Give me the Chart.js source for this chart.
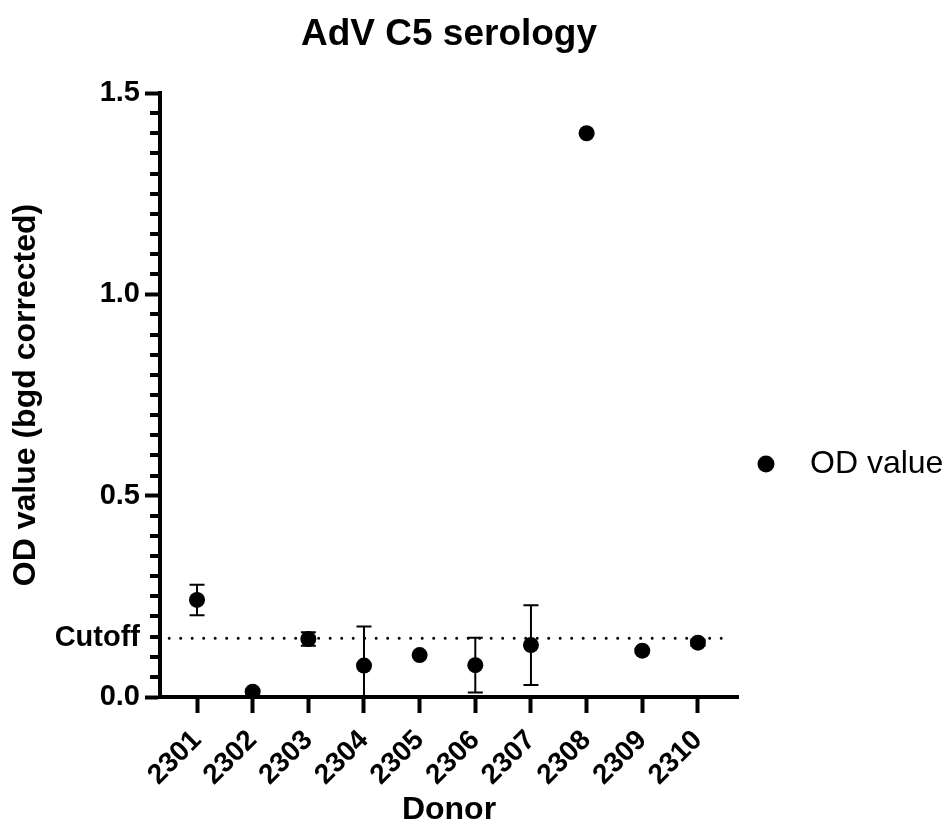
<!DOCTYPE html>
<html>
<head>
<meta charset="utf-8">
<script src="https://cdn.jsdelivr.net/npm/chart.js@4/dist/chart.umd.min.js"></script>
<style>
  html, body { margin: 0; padding: 0; background: #fff; }
</style>
</head>
<body>
<canvas id="chart" width="944" height="832"></canvas>
<script>
// donors on the x axis
const donors = ['2301', '2302', '2303', '2304', '2305', '2306', '2307', '2308', '2309', '2310'];
// mean OD value (bgd corrected) and its error
const odValues = [0.241, 0.013, 0.144, 0.078, 0.104, 0.079, 0.129, 1.400, 0.115, 0.135];
const odErrors = [0.038, 0, 0.017, 0.097, 0, 0.068, 0.099, 0.004, 0.004, 0.008];
const cutoff = 0.146;
const majorTicks = [0, 0.5, 1.0, 1.5];
const minorStep = 0.05;

const FONT = "Arial, 'Liberation Sans', sans-serif";

const isMajor = v => majorTicks.some(m => Math.abs(m - v) < 1e-6);

// legend marker
const marker = document.createElement('canvas');
marker.width = 18; marker.height = 18;
const mctx = marker.getContext('2d');
mctx.fillStyle = '#000';
mctx.beginPath(); mctx.arc(9, 9, 8.5, 0, Math.PI * 2); mctx.fill();

const errorBars = {
  id: 'errorBars',
  beforeDatasetsDraw(chart) {
    const {ctx, chartArea, scales: {x, y}} = chart;
    ctx.save();
    ctx.beginPath();
    ctx.rect(chartArea.left, chartArea.top, chartArea.width, chartArea.height);
    ctx.clip();
    ctx.strokeStyle = '#000';
    ctx.lineWidth = 2;
    odValues.forEach((v, i) => {
      const e = odErrors[i];
      if (!e) return;
      const px = x.getPixelForValue(i + 1);
      const top = y.getPixelForValue(v + e);
      const bot = y.getPixelForValue(v - e);
      ctx.beginPath();
      ctx.moveTo(px, top); ctx.lineTo(px, bot);
      ctx.moveTo(px - 7.5, top); ctx.lineTo(px + 7.5, top);
      ctx.moveTo(px - 7.5, bot); ctx.lineTo(px + 7.5, bot);
      ctx.stroke();
    });
    ctx.restore();
  }
};

const minorTicks = {
  id: 'minorTicks',
  afterDraw(chart) {
    const {ctx, chartArea, scales: {y}} = chart;
    const x0 = chartArea.left - 2;
    ctx.save();
    ctx.strokeStyle = '#000';
    ctx.lineWidth = 4;
    y.ticks.forEach(t => {
      if (isMajor(t.value) || t.value === cutoff) return;
      const py = Math.round(y.getPixelForValue(t.value));
      ctx.beginPath();
      ctx.moveTo(x0, py); ctx.lineTo(x0 - 8, py);
      ctx.stroke();
    });
    ctx.restore();
  }
};

new Chart(document.getElementById('chart'), {
  data: {
    datasets: [{
      type: 'scatter',
      label: 'OD value',
      data: odValues.map((v, i) => ({x: i + 1, y: v})),
      backgroundColor: '#000',
      borderWidth: 0,
      pointRadius: 8,
      pointHoverRadius: 8,
      order: 0
    }, {
      type: 'line',
      label: 'Cutoff',
      data: [{x: 0.5, y: cutoff}, {x: 10.5, y: cutoff}],
      borderColor: '#000',
      borderWidth: 3,
      borderDash: [0, 11.5],
      borderCapStyle: 'round',
      pointRadius: 0,
      fill: false,
      order: 1
    }]
  },
  options: {
    responsive: false,
    animation: false,
    devicePixelRatio: 1,
    layout: { padding: 0 },
    plugins: {
      tooltip: { enabled: false },
      title: {
        display: true,
        text: 'AdV C5 serology',
        fullSize: false,
        color: '#000',
        font: { family: FONT, size: 37, weight: 'bold', lineHeight: 1.2 },
        padding: { top: 13, bottom: 35.6 }
      },
      legend: {
        position: 'right',
        maxWidth: 206,
        title: { display: true, text: '', padding: { top: 86, bottom: 0 }, font: { size: 10, lineHeight: 1 } },
        labels: {
          filter: item => item.datasetIndex === 0,
          usePointStyle: true,
          pointStyle: marker,
          pointStyleWidth: 56,
          boxHeight: 16,
          padding: 0,
          color: '#000',
          font: { family: FONT, size: 32 }
        }
      }
    },
    scales: {
      x: {
        type: 'linear',
        min: 0.335,
        max: 10.72,
        afterBuildTicks: scale => { scale.ticks = donors.map((d, i) => ({value: i + 1})); },
        afterFit: scale => { scale.height = 135; },
        ticks: {
          autoSkip: false,
          minRotation: 45,
          maxRotation: 45,
          padding: 11,
          color: '#000',
          font: { family: FONT, size: 28, weight: 'bold' },
          callback: v => donors[v - 1]
        },
        grid: { drawOnChartArea: false, tickLength: 16, tickWidth: 4, tickColor: '#000' },
        border: { display: true, width: 4, color: '#000' },
        title: {
          display: true,
          text: 'Donor',
          color: '#000',
          font: { family: FONT, size: 32, weight: 'bold', lineHeight: 1.2 },
          padding: { top: 0, bottom: 3 }
        }
      },
      y: {
        type: 'linear',
        min: 0,
        max: 1.5,
        afterBuildTicks: scale => {
          const vals = [];
          for (let v = 0; v <= 1.5 + 1e-9; v += minorStep) vals.push(Math.round(v * 100) / 100);
          vals.push(cutoff);
          scale.ticks = vals.map(v => ({value: v}));
        },
        afterFit: scale => { scale.width = 160; },
        ticks: {
          autoSkip: false,
          padding: 5,
          color: '#000',
          font: { family: FONT, size: 29, weight: 'bold' },
          callback: v => v === cutoff ? 'Cutoff' : (isMajor(v) ? v.toFixed(1) : '')
        },
        grid: {
          drawOnChartArea: false,
          tickLength: 15,
          tickWidth: 4,
          tickColor: ctx => isMajor(ctx.tick.value) ? '#000' : 'rgba(0,0,0,0)'
        },
        border: { display: true, width: 4, color: '#000' },
        title: {
          display: true,
          text: 'OD value (bgd corrected)',
          color: '#000',
          font: { family: FONT, size: 32, weight: 'bold', lineHeight: 1.2 },
          padding: { top: 7, bottom: 0 }
        }
      }
    }
  },
  plugins: [errorBars, minorTicks]
});
</script>
</body>
</html>
